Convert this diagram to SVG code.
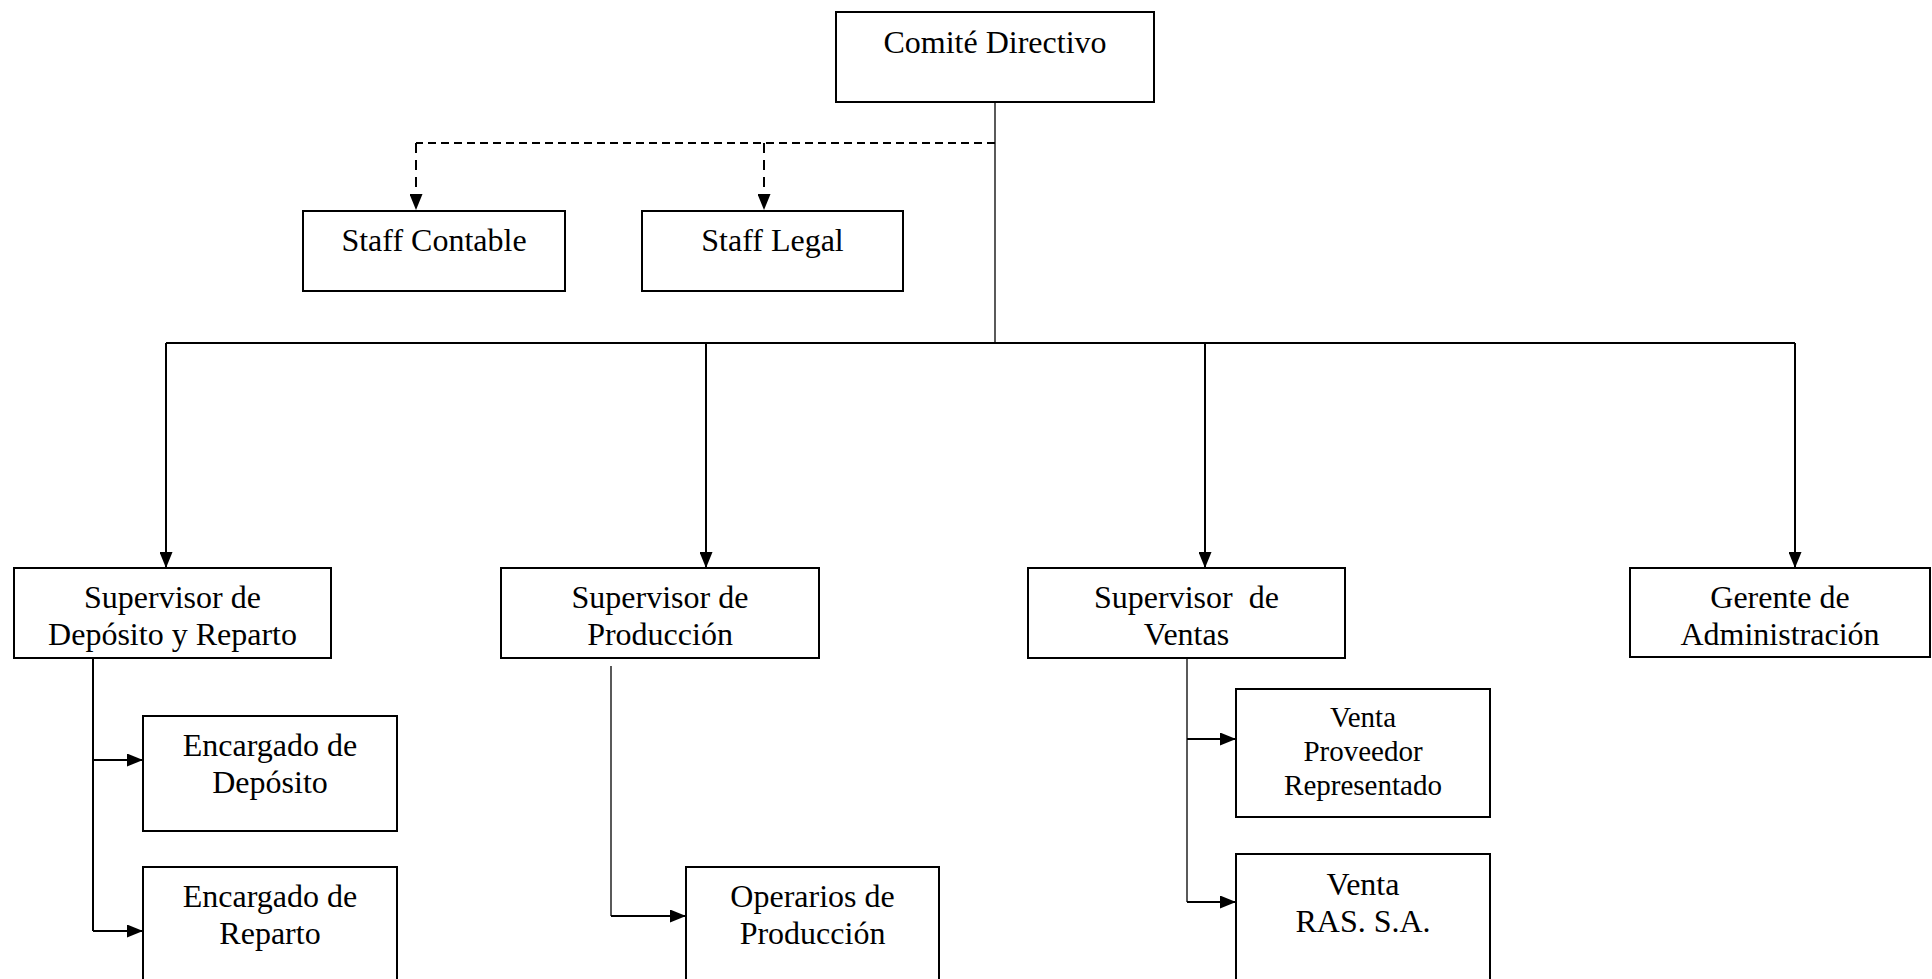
<svg xmlns="http://www.w3.org/2000/svg" width="1932" height="979" viewBox="0 0 1932 979">
  <style>
    .box { fill: #ffffff; stroke: #000000; stroke-width: 2; }
    .lbl { font-family: "Liberation Serif", "Times New Roman", serif; font-size: 32px; fill: #000000; text-anchor: middle; white-space: pre; }
    .sm { font-size: 29px; }
    .wire { fill: none; stroke: #000000; stroke-width: 2; }
    .thin { fill: none; stroke: #000000; stroke-width: 1.3; }
    .dash { fill: none; stroke: #000000; stroke-width: 2; stroke-dasharray: 8 5; }
    .dashv { fill: none; stroke: #000000; stroke-width: 2; stroke-dasharray: 10 7; }
  </style>
  <defs>
    <marker id="tip" viewBox="0 0 16 13" refX="16" refY="6.5" markerWidth="16" markerHeight="13" markerUnits="userSpaceOnUse" orient="auto">
      <path d="M0,0 L16,6.5 L0,13 Z" fill="#000000"/>
    </marker>
  </defs>
  <rect width="1932" height="979" fill="#ffffff"/>

  <!-- connectors -->
  <g id="connectors">
    <!-- committee trunk and main bus -->
    <path class="thin" d="M995,102 V343"/>
    <path class="wire" d="M166,343 H1795"/>
    <!-- staff (dashed) -->
    <path class="dash" d="M995,143 H416"/>
    <path class="dashv" d="M416,143 V210" marker-end="url(#tip)"/>
    <path class="dashv" d="M764,143 V210" marker-end="url(#tip)"/>
    <!-- drops to supervisors -->
    <path class="wire" d="M166,343 V568" marker-end="url(#tip)"/>
    <path class="wire" d="M706,343 V568" marker-end="url(#tip)"/>
    <path class="wire" d="M1205,343 V568" marker-end="url(#tip)"/>
    <path class="wire" d="M1795,343 V568" marker-end="url(#tip)"/>
    <!-- deposito y reparto branch -->
    <path class="wire" d="M93,658 V931"/>
    <path class="wire" d="M93,760 H143" marker-end="url(#tip)"/>
    <path class="wire" d="M93,931 H143" marker-end="url(#tip)"/>
    <!-- produccion branch -->
    <path class="thin" d="M611,666 V916"/>
    <path class="wire" d="M611,916 H686" marker-end="url(#tip)"/>
    <!-- ventas branch -->
    <path class="thin" d="M1187,658 V902"/>
    <path class="wire" d="M1187,739 H1236" marker-end="url(#tip)"/>
    <path class="wire" d="M1187,902 H1236" marker-end="url(#tip)"/>
  </g>

  <g id="comite">
    <rect class="box" x="836" y="12" width="318" height="90"/>
    <text class="lbl" x="995" y="53">Comité Directivo</text>
  </g>
  <g id="staff-contable">
    <rect class="box" x="303" y="211" width="262" height="80"/>
    <text class="lbl" x="434" y="251">Staff Contable</text>
  </g>
  <g id="staff-legal">
    <rect class="box" x="642" y="211" width="261" height="80"/>
    <text class="lbl" x="772.5" y="251">Staff Legal</text>
  </g>

  <g id="sup-deposito">
    <rect class="box" x="14" y="568" width="317" height="90"/>
    <text class="lbl" x="172.5" y="608">Supervisor de</text>
    <text class="lbl" x="172.5" y="645">Depósito y Reparto</text>
  </g>
  <g id="sup-produccion">
    <rect class="box" x="501" y="568" width="318" height="90"/>
    <text class="lbl" x="660" y="608">Supervisor de</text>
    <text class="lbl" x="660" y="645">Producción</text>
  </g>
  <g id="sup-ventas">
    <rect class="box" x="1028" y="568" width="317" height="90"/>
    <text class="lbl" x="1186.5" y="608">Supervisor  de</text>
    <text class="lbl" x="1186.5" y="645">Ventas</text>
  </g>
  <g id="gerente-admin">
    <rect class="box" x="1630" y="568" width="300" height="89"/>
    <text class="lbl" x="1780" y="608">Gerente de</text>
    <text class="lbl" x="1780" y="645">Administración</text>
  </g>

  <g id="enc-deposito">
    <rect class="box" x="143" y="716" width="254" height="115"/>
    <text class="lbl" x="270" y="756">Encargado de</text>
    <text class="lbl" x="270" y="793">Depósito</text>
  </g>
  <g id="enc-reparto">
    <rect class="box" x="143" y="867" width="254" height="130"/>
    <text class="lbl" x="270" y="907">Encargado de</text>
    <text class="lbl" x="270" y="944">Reparto</text>
  </g>
  <g id="operarios">
    <rect class="box" x="686" y="867" width="253" height="130"/>
    <text class="lbl" x="812.5" y="907">Operarios de</text>
    <text class="lbl" x="812.5" y="944">Producción</text>
  </g>
  <g id="venta-proveedor">
    <rect class="box" x="1236" y="689" width="254" height="128"/>
    <text class="lbl sm" x="1363" y="727">Venta</text>
    <text class="lbl sm" x="1363" y="761">Proveedor</text>
    <text class="lbl sm" x="1363" y="795">Representado</text>
  </g>
  <g id="venta-ras">
    <rect class="box" x="1236" y="854" width="254" height="143"/>
    <text class="lbl" x="1363" y="895">Venta</text>
    <text class="lbl" x="1363" y="932">RAS. S.A.</text>
  </g>
</svg>
